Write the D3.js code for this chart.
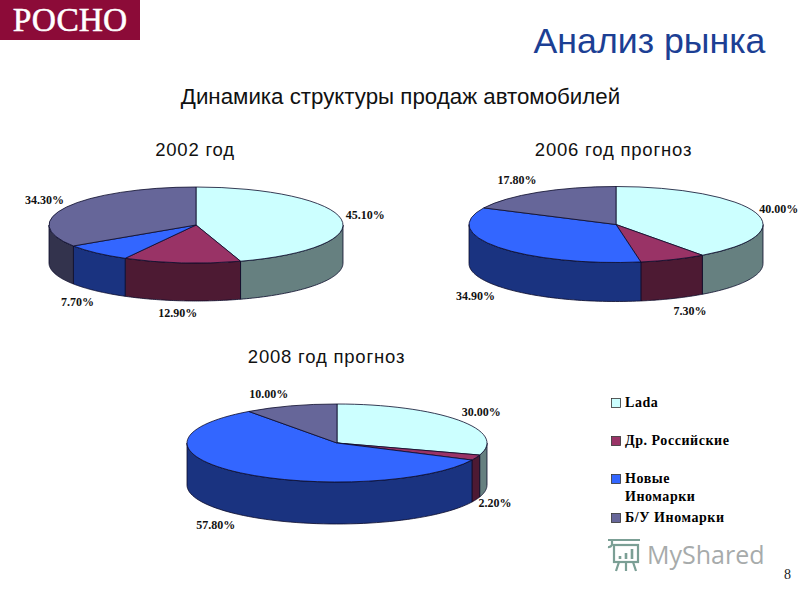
<!DOCTYPE html>
<html><head><meta charset="utf-8">
<script src="https://cdn.jsdelivr.net/npm/d3@7"></script>
<style>
html,body{margin:0;padding:0;background:#fff}
svg{display:block}
.lbl{font-family:"Liberation Serif",serif;font-weight:700;font-size:12px;fill:#111}
.sans{font-family:"Liberation Sans",Arial,sans-serif}
.leg{font-family:"Liberation Serif",serif;font-weight:700;font-size:14px;fill:#000;letter-spacing:.55px}
</style></head><body>
<svg id="c" width="800" height="600"></svg>
<script>
// ---- data ----
const categories = ["Lada", "Др. Российские", "Новые Иномарки", "Б/У Иномарки"];
const years = ["2002 год", "2006 год прогноз", "2008 год прогноз"];
const values2002 = [45.1, 12.9, 7.7, 34.3];
const values2006 = [40.0, 7.3, 34.9, 17.8];
const values2008 = [30.0, 2.2, 57.8, 10.0];

// ---- styles / layout ----
const topColors  = ["#ccffff", "#993366", "#3366ff", "#666699"];
const sideColors = ["#668080", "#4d1a33", "#1a3380", "#33334d"];
const pies = [
  {values: values2002, cx:196, cy:225, rx:147, ry:38, depth:38, title:[195,156],
   nudges:[[24,-4],[-4,13],[-19,12],[-22,-7]]},
  {values: values2006, cx:616, cy:224.5, rx:147, ry:38, depth:39, title:[613.5,156],
   nudges:[[23,-3],[17,13],[-23,10],[-21,-12]]},
  {values: values2008, cx:337, cy:443, rx:150, ry:39, depth:42, title:[326.5,363],
   nudges:[[23,-8],[19,4],[-25,11],[-22,-11]]}
];

const svg = d3.select("#c");
const fmt = d3.format(".2f");
const pieGen = d3.pie().sort(null).value(d => d).startAngle(0).endAngle(2*Math.PI);
const stroke = "#0a0a2a";

// logo
svg.append("rect").attr("x",0).attr("y",0).attr("width",140).attr("height",40).attr("fill","#8c0b38");
svg.append("text").attr("x",70).attr("y",31).attr("text-anchor","middle")
  .attr("font-family","Liberation Serif, serif").attr("font-size",33.5).attr("fill","#fff")
  .attr("stroke","#fff").attr("stroke-width",.5).text("РОСНО");

// titles
svg.append("text").attr("class","sans").attr("x",649.5).attr("y",53).attr("text-anchor","middle")
  .attr("font-size",35.7).attr("fill","#1c3f94").text("Анализ рынка");
svg.append("text").attr("class","sans").attr("x",400.5).attr("y",104).attr("text-anchor","middle")
  .attr("font-size",22.3).attr("fill","#111").text("Динамика структуры продаж автомобилей");

// pies
pies.forEach((p, pi) => {
  const g = svg.append("g");
  const arcs = pieGen(p.values);
  const px = a => p.cx + p.rx*Math.sin(a);
  const py = a => p.cy - p.ry*Math.cos(a);

  // side walls: only the front half of the rim is visible
  arcs.forEach((d,i) => {
    const a0 = Math.max(d.startAngle, Math.PI/2), a1 = Math.min(d.endAngle, 3*Math.PI/2);
    if (a1 <= a0) return;
    const path = d3.path();
    path.moveTo(px(a0), py(a0));
    const steps = 60;
    d3.range(1, steps+1).forEach(k => { const a = a0+(a1-a0)*k/steps; path.lineTo(px(a), py(a)); });
    d3.range(steps, -1, -1).forEach(k => { const a = a0+(a1-a0)*k/steps; path.lineTo(px(a), py(a)+p.depth); });
    path.closePath();
    g.append("path").attr("d", path.toString()).attr("fill", sideColors[i])
      .attr("stroke", stroke).attr("stroke-width", .8).attr("stroke-linejoin","round");
  });

  // top faces
  const arc = d3.arc().innerRadius(0).outerRadius(p.rx);
  const top = g.append("g").attr("transform", `translate(${p.cx},${p.cy}) scale(1,${p.ry/p.rx})`);
  top.selectAll("path").data(arcs).join("path").attr("d", arc)
    .attr("fill",(d,i)=>topColors[i]).attr("stroke",stroke).attr("stroke-width",.8)
    .attr("vector-effect","non-scaling-stroke");

  // labels, anchored at the slice's mid-angle on the rim
  arcs.forEach((d,i) => {
    const m = (d.startAngle+d.endAngle)/2;
    const front = Math.cos(m) < 0;
    g.append("text").attr("class","lbl").attr("text-anchor","middle")
      .attr("x", px(m)+p.nudges[i][0])
      .attr("y", py(m)+(front?p.depth:0)+p.nudges[i][1]+3.5)
      .text(fmt(d.value)+"%");
  });

  svg.append("text").attr("class","sans").attr("x",p.title[0]).attr("y",p.title[1])
    .attr("text-anchor","middle").attr("font-size",18.5).attr("letter-spacing",.8).attr("fill","#111").text(years[pi]);
});

// legend
const legendLines = [["Lada"],["Др. Российские"],["Новые","Иномарки"],["Б/У Иномарки"]];
const legendY = [403,441,479,518];
const lg = svg.append("g");
categories.forEach((c,i) => {
  lg.append("rect").attr("x",611.5).attr("y",legendY[i]-4.5).attr("width",9).attr("height",9)
    .attr("fill",topColors[i]).attr("stroke","#333").attr("stroke-width",.8);
  legendLines[i].forEach((t,k) => {
    lg.append("text").attr("class","leg").attr("x",625).attr("y",legendY[i]+4+k*18).text(t);
  });
});

// watermark
const wm = svg.append("g").attr("opacity",.75);
wm.append("text").attr("x",647).attr("y",564).attr("font-family","Open Sans, sans-serif")
  .attr("font-size",25).attr("fill","#8a8f8f").text("MyShared");
const ic = wm.append("g").attr("fill","none").attr("stroke","#4f7f72").attr("stroke-width",2.2);
ic.append("rect").attr("x",614).attr("y",545).attr("width",24).attr("height",17);
ic.append("path").attr("d","M608 540h32M612 540v5a4 4 0 0 1-4 2M619 562l-3 9M626 562v9M633 562l3 9");
ic.append("path").attr("d","M620 559v-3M626 559v-6M632 559v-10").attr("stroke-width",2.6);

// page number
svg.append("text").attr("x",787.5).attr("y",579).attr("text-anchor","middle")
  .attr("font-family","Liberation Serif, serif").attr("font-size",14).attr("fill","#222").text("8");
</script>
</body></html>
